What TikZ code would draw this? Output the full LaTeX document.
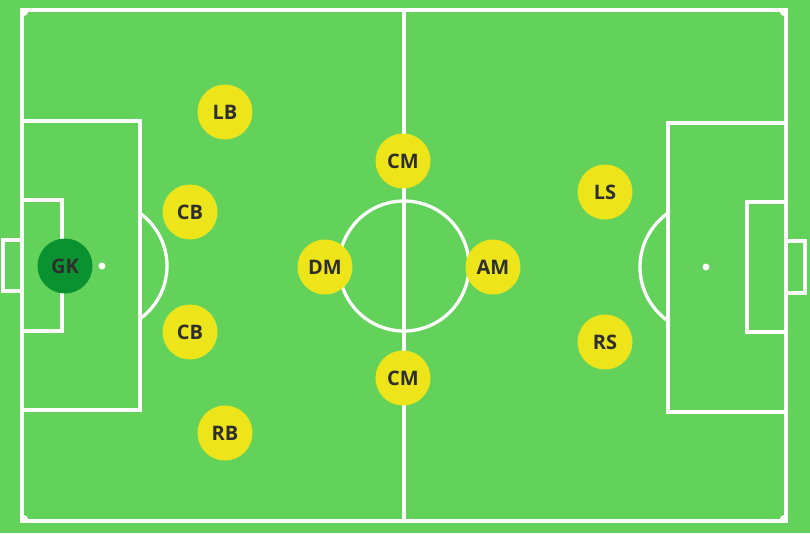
\documentclass[tikz,border=0pt]{standalone}
\usepackage{fontspec}
\setmainfont{Open Sans}
\definecolor{grass}{HTML}{63D25A}
\definecolor{pyellow}{HTML}{EEE41A}
\definecolor{gkgreen}{HTML}{0A9130}
\definecolor{ptext}{HTML}{2E2E2E}
\tikzset{
  pitchline/.style={draw=white, line width=3.3pt},
  player/.style={circle, fill=pyellow, minimum size=55pt, inner sep=0pt,
    text=ptext, font=\bfseries\fontsize{20}{20}\selectfont},
  keeper/.style={player, fill=gkgreen},
  spot/.style={circle, fill=white, minimum size=7pt, inner sep=0pt}
}
\begin{document}
\begin{tikzpicture}[x=1pt,y=-1pt]
\fill[grass] (0,0) rectangle (810,533);
\useasboundingbox (0,0) rectangle (810,533);
% outer lines and halfway line
\draw[pitchline] (22,10) rectangle (786,521);
\draw[pitchline] (404,10) -- (404,521);
% centre circle
\draw[pitchline] (404,266) circle (65);
% corner arcs
\begin{scope}
\clip (22,10) rectangle (786,521);
\draw[pitchline] (22,10) circle (5);
\draw[pitchline] (786,10) circle (5);
\draw[pitchline] (22,521) circle (5);
\draw[pitchline] (786,521) circle (5);
\end{scope}
% left end
\draw[pitchline] (22,121) rectangle (140,410);
\draw[pitchline] (22,200) rectangle (62,331);
\draw[pitchline] (3,240) rectangle (22,291);
\begin{scope}
\clip (140,0) rectangle (300,533);
\draw[pitchline] (102,266) circle (65);
\end{scope}
\node[spot] (lspot) at (102,266) {};
% right end
\draw[pitchline] (668,123) rectangle (786,412);
\draw[pitchline] (747,202) rectangle (786,332);
\draw[pitchline] (786,241) rectangle (805,293);
\begin{scope}
\clip (500,0) rectangle (668,533);
\draw[pitchline] (706,267) circle (66);
\end{scope}
\node[spot] (rspot) at (706,267) {};
% players
\node[keeper] (gk) at (65,266) {GK};
\node[player] (lb) at (225,112) {LB};
\node[player] (cb1) at (190,212) {CB};
\node[player] (cb2) at (190,332) {CB};
\node[player] (rb) at (225,433) {RB};
\node[player] (cm1) at (403,161) {CM};
\node[player] (dm) at (325,267) {DM};
\node[player] (am) at (493,267) {AM};
\node[player] (cm2) at (403,378) {CM};
\node[player] (ls) at (605,192) {LS};
\node[player] (rs) at (605,342) {RS};
\end{tikzpicture}
\end{document}
